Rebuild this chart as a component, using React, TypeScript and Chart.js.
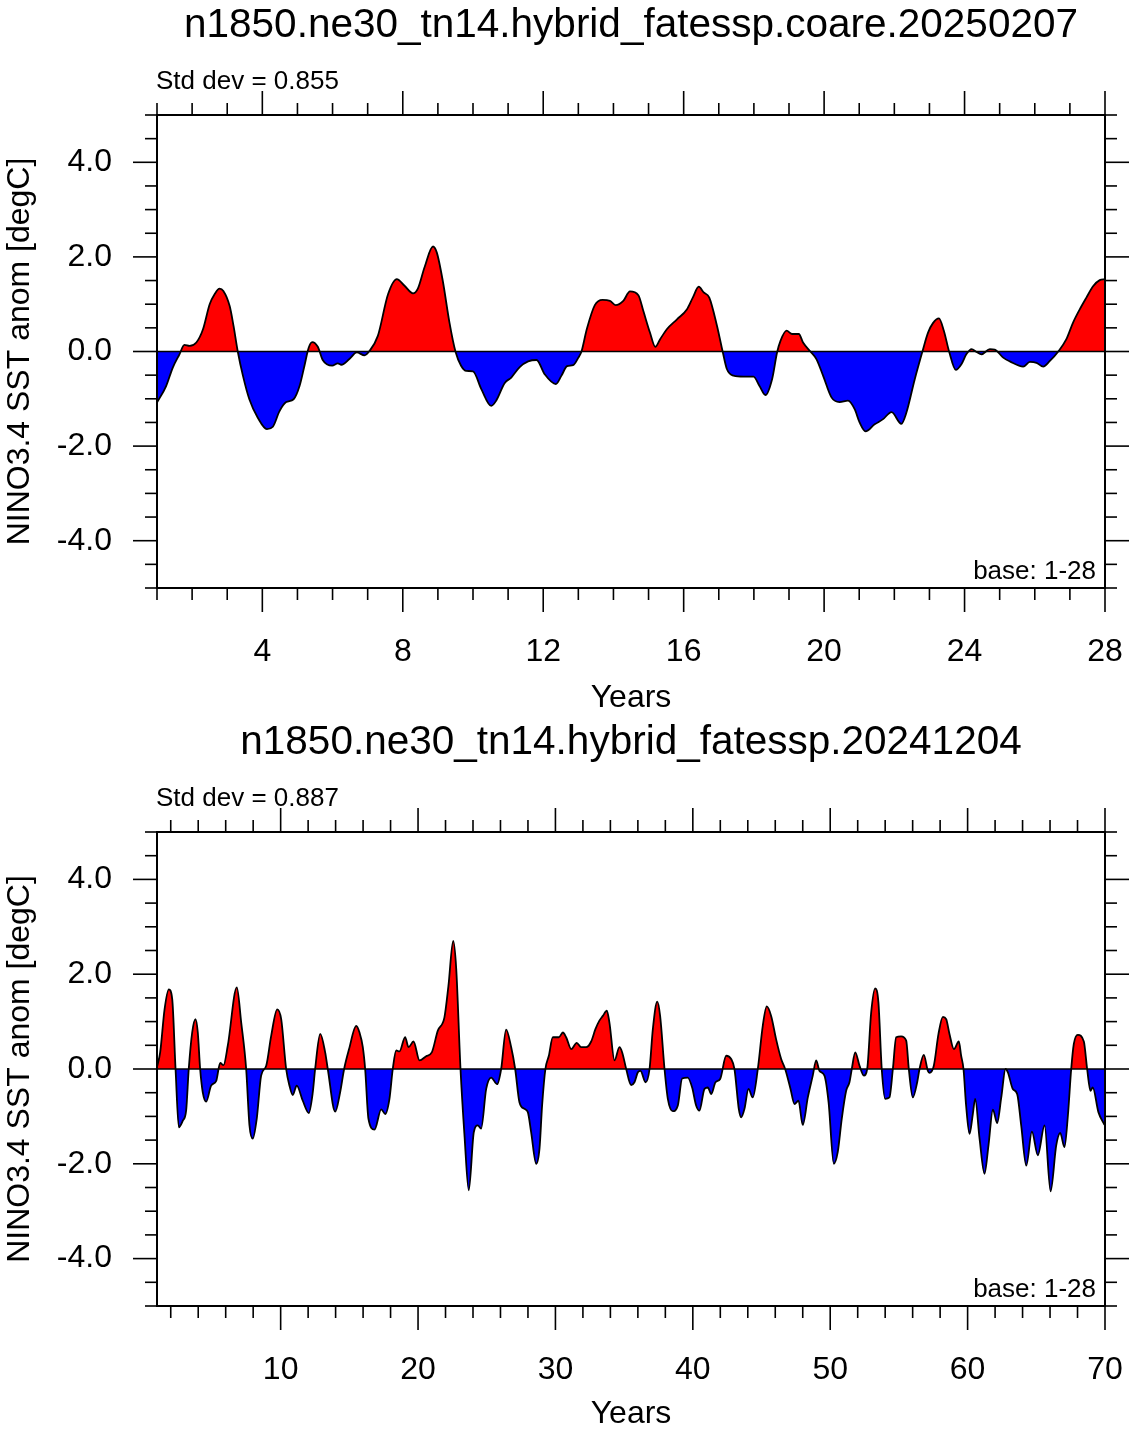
import React, { useEffect, useRef } from "react";
import { Chart, registerables } from "chart.js";

Chart.register(...registerables);

const FONT = '"Liberation Sans", Arial, Helvetica, sans-serif';

// Shared axis text
const X_TITLE = "Years";
const Y_TITLE = "NINO3.4 SST anom [degC]";
const BASE_LABEL = "base: 1-28";
const Y_MAJOR = [-4, -2, 0, 2, 4];
const Y_MINOR_STEP = 0.5;
const Y_MIN = -5;
const Y_MAX = 5;

// Run 1: coare, years 1-28
const TITLE_A = "n1850.ne30_tn14.hybrid_fatessp.coare.20250207";
const STDDEV_A = "Std dev = 0.855";
const X_MAJOR_A = [4, 8, 12, 16, 20, 24, 28];
const X_MINOR_STEP_A = 1;
const X_MIN_A = 1;
const X_MAX_A = 28;
const YEARS_A = [
  1.0, 1.26, 1.45, 1.64, 1.78, 1.93, 2.12, 2.31, 2.5, 2.64, 2.78, 2.89, 3.07, 3.18, 3.3, 3.45, 3.63, 3.87,
  4.13, 4.3, 4.49, 4.68, 4.89, 5.06, 5.2, 5.32, 5.42, 5.58, 5.72, 5.99, 6.15, 6.25, 6.48, 6.69, 6.91, 7.05,
  7.29, 7.58, 7.83, 8.05, 8.29, 8.43, 8.62, 8.86, 8.97, 9.14, 9.33, 9.5, 9.66, 9.81, 10.0, 10.24, 10.52,
  10.66, 10.9, 11.09, 11.33, 11.57, 11.81, 12.04, 12.36, 12.52, 12.68, 12.85, 13.0, 13.09, 13.24, 13.47,
  13.69, 13.9, 14.06, 14.28, 14.47, 14.71, 14.85, 15.04, 15.19, 15.33, 15.52, 15.81, 16.09, 16.26, 16.43,
  16.57, 16.73, 16.95, 17.11, 17.23, 17.42, 17.71, 17.99, 18.16, 18.33, 18.52, 18.66, 18.76, 18.93, 19.09,
  19.28, 19.4, 19.61, 19.78, 19.97, 20.21, 20.44, 20.68, 20.87, 21.01, 21.18, 21.44, 21.68, 21.92, 22.2,
  22.34, 22.58, 22.8, 22.96, 23.1, 23.27, 23.41, 23.56, 23.75, 23.91, 24.05, 24.2, 24.34, 24.48, 24.72,
  24.86, 25.1, 25.29, 25.67, 25.86, 26.05, 26.24, 26.43, 26.67, 26.9, 27.09, 27.28, 27.47, 27.66, 27.85, 28.0,
];
const ANOM_A = [
  -1.08, -0.73, -0.34, -0.06, 0.14, 0.12, 0.19, 0.47, 1.0, 1.21, 1.33, 1.28, 0.96, 0.54, 0.0, -0.52, -1.01, -1.4,
  -1.64, -1.59, -1.26, -1.07, -1.01, -0.73, -0.3, 0.08, 0.2, 0.1, -0.18, -0.3, -0.25, -0.28, -0.16, -0.02, -0.08, 0.01,
  0.33, 1.21, 1.53, 1.39, 1.23, 1.33, 1.78, 2.22, 2.09, 1.49, 0.61, 0.0, -0.3, -0.41, -0.42, -0.8, -1.15,
  -1.04, -0.67, -0.55, -0.33, -0.21, -0.18, -0.48, -0.69, -0.51, -0.31, -0.29, -0.13, 0.0, 0.47, 0.98,
  1.09, 1.07, 0.98, 1.07, 1.27, 1.19, 0.86, 0.4, 0.1, 0.26, 0.47, 0.68, 0.89, 1.14, 1.37,
  1.25, 1.14, 0.54, 0.0, -0.37, -0.51, -0.53, -0.53, -0.73, -0.92, -0.58, -0.02, 0.23, 0.44, 0.37,
  0.37, 0.19, 0.0, -0.16, -0.51, -0.97, -1.07, -1.04, -1.22, -1.5, -1.69, -1.54, -1.43, -1.28, -1.53,
  -1.3, -0.59, 0.0, 0.4, 0.6, 0.7, 0.44, 0.0, -0.39, -0.27, -0.06, 0.05, -0.01, -0.06, 0.05,
  0.04, -0.13, -0.21, -0.32, -0.22, -0.24, -0.32, -0.2, 0.0, 0.26, 0.61, 0.89, 1.14, 1.38, 1.51, 1.53,
];

// Run 2: years 1-70
const TITLE_B = "n1850.ne30_tn14.hybrid_fatessp.20241204";
const STDDEV_B = "Std dev = 0.887";
const X_MAJOR_B = [10, 20, 30, 40, 50, 60, 70];
const X_MINOR_STEP_B = 2;
const X_MIN_B = 1;
const X_MAX_B = 70;
const YEARS_B = [
  1.0, 1.23, 1.55, 1.86, 2.11, 2.35, 2.59, 2.88, 3.12, 3.31, 3.56, 3.8, 3.97, 4.14, 4.33, 4.58, 4.94, 5.31,
  5.6, 5.84, 6.15, 6.81, 7.13, 7.49, 7.73, 7.97, 8.26, 8.58, 8.95, 9.31, 9.75, 10.04, 10.4, 10.64, 10.88,
  11.17, 11.61, 12.05, 12.34, 12.51, 12.88, 13.24, 13.43, 13.97, 14.33, 14.62, 14.98, 15.5, 15.74, 15.98,
  16.15, 16.39, 16.83, 17.32, 17.61, 17.92, 18.16, 18.41, 18.65, 19.06, 19.31, 19.67, 20.11, 20.59, 21.0,
  21.44, 21.92, 22.21, 22.56, 22.78, 23.09, 23.38, 23.69, 24.06, 24.35, 24.59, 24.96, 25.32, 25.76, 26.05,
  26.41, 26.78, 27.07, 27.38, 27.74, 27.99, 28.23, 28.6, 28.84, 29.03, 29.27, 29.52, 29.81, 30.25, 30.54,
  30.78, 31.15, 31.55, 31.87, 32.24, 32.6, 32.91, 33.2, 33.45, 33.74, 33.93, 34.3, 34.66, 34.86, 35.15,
  35.51, 35.75, 36.0, 36.19, 36.56, 36.85, 37.09, 37.41, 37.62, 37.94, 38.18, 38.54, 38.91, 39.22, 39.63,
  39.95, 40.24, 40.48, 40.85, 41.09, 41.34, 41.65, 41.99, 42.43, 42.79, 43.03, 43.35, 43.52, 43.76, 44.05,
  44.36, 44.73, 45.09, 45.38, 45.7, 46.06, 46.43, 46.72, 47.11, 47.4, 47.69, 48.0, 48.37, 48.73, 48.98,
  49.22, 49.58, 49.88, 50.26, 50.55, 50.84, 51.16, 51.4, 51.57, 51.82, 52.13, 52.45, 52.69, 52.98, 53.27,
  53.51, 53.75, 54.0, 54.31, 54.56, 54.8, 55.16, 55.53, 55.72, 56.01, 56.33, 56.5, 56.81, 57.11, 57.22,
  57.54, 57.88, 58.2, 58.44, 58.68, 59.0, 59.36, 59.53, 59.7, 59.89, 60.14, 60.38, 60.55, 60.87, 61.23,
  61.52, 61.84, 62.15, 62.45, 62.76, 62.93, 63.29, 63.61, 63.9, 64.27, 64.68, 65.11, 65.6, 66.04, 66.45,
  66.74, 67.05, 67.3, 67.54, 67.73, 68.02, 68.46, 68.7, 68.94, 69.11, 69.52, 69.96,
];
const ANOM_B = [
  0.04, 0.35, 1.26, 1.68, 1.47, 0.0, -1.23, -1.09, -0.88, 0.0, 0.77, 1.05, 0.77, 0.0, -0.49, -0.69, -0.35, -0.25,
  0.13, 0.08, 0.49, 1.72, 0.98, 0.0, -1.19, -1.47, -1.05, -0.14, 0.07, 0.7, 1.26, 1.05, 0.0, -0.35, -0.55,
  -0.35, -0.67, -0.93, -0.49, 0.0, 0.74, 0.35, 0.0, -0.9, -0.49, 0.0, 0.42, 0.91, 0.77, 0.46,
  0.0, -1.05, -1.28, -0.85, -0.95, -0.63, 0.0, 0.39, 0.37, 0.67, 0.46, 0.58, 0.18, 0.27, 0.35,
  0.81, 1.09, 1.75, 2.7, 2.11, 0.0, -1.4, -2.56, -1.33, -1.19, -1.26, -0.42, -0.18, -0.32, 0.0,
  0.83, 0.46, 0.0, -0.7, -0.84, -0.91, -1.33, -2.0, -1.68, -0.77, 0.0, 0.28, 0.67, 0.67, 0.77,
  0.67, 0.42, 0.55, 0.46, 0.46, 0.58, 0.84, 1.02, 1.12, 1.23, 0.98, 0.18, 0.46, 0.35, 0.0,
  -0.34, -0.28, -0.07, -0.04, -0.28, 0.0, 0.84, 1.42, 1.12, 0.0, -0.63, -0.89, -0.77, -0.2, -0.18,
  -0.39, -0.77, -0.88, -0.42, -0.39, -0.53, -0.28, -0.21, 0.28, 0.21, 0.0, -0.85, -1.02, -0.84, -0.42,
  -0.6, 0.0, 0.91, 1.32, 1.12, 0.63, 0.21, 0.0, -0.42, -0.74, -0.67, -1.18, -0.6, -0.14, 0.18,
  -0.04, -0.14, -0.7, -2.0, -1.75, -1.05, -0.46, -0.28, 0.0, 0.35, 0.07, -0.14, 0.0, 1.19, 1.7,
  1.4, 0.0, -0.63, -0.6, 0.0, 0.67, 0.69, 0.6, 0.0, -0.6, -0.28, 0.0, 0.3, -0.04, -0.08,
  0.07, 0.74, 1.1, 1.05, 0.74, 0.42, 0.58, 0.28, 0.0, -0.77, -1.37, -0.95, -0.63, -1.47, -2.21,
  -1.61, -0.86, -1.14, -0.6, 0.0, -0.07, -0.42, -0.53, -1.19, -2.04, -1.32, -1.82, -1.19, -2.58, -1.61,
  -1.35, -1.65, -0.98, 0.0, 0.53, 0.72, 0.58, 0.0, -0.46, -0.39, -0.91, -1.18,
];

// Page geometry
const PAGE_W = 1136;
const PANEL_H = 716;
const PLOT_RIGHT_PAD = 31;
const Y_AXIS_W = 157;
const MAJOR_LEN = 24;
const MINOR_LEN = 12;

type PanelSpec = {
  title: string;
  stddev: string;
  years: number[];
  anom: number[];
  xMin: number;
  xMax: number;
  xMajor: number[];
  xMinorStep: number;
  plotTop: number;
  plotBottom: number;
};

function range(from: number, to: number, step: number): number[] {
  const out: number[] = [];
  const n = Math.round((to - from) / step);
  for (let i = 0; i <= n; i++) out.push(+(from + i * step).toFixed(6));
  return out;
}

// Outward tick marks on all four sides, closed frame and zero reference line
const frameTicks = {
  id: "frameTicks",
  afterDatasetsDraw(chart: any, _args: any, opts: any) {
    const { ctx, chartArea: a, scales } = chart;
    const x = scales.x;
    const y = scales.y;
    ctx.save();
    ctx.strokeStyle = "#000";
    ctx.lineCap = "butt";

    // zero line
    ctx.lineWidth = 1.6;
    const y0 = y.getPixelForValue(0);
    ctx.beginPath();
    ctx.moveTo(a.left, y0);
    ctx.lineTo(a.right, y0);
    ctx.stroke();

    const seg = (x1: number, y1: number, x2: number, y2: number) => {
      ctx.beginPath();
      ctx.moveTo(x1, y1);
      ctx.lineTo(x2, y2);
      ctx.stroke();
    };

    ctx.lineWidth = 1.6;
    const firstMinor = Math.ceil(opts.xMin / opts.xMinorStep) * opts.xMinorStep;
    for (const v of range(firstMinor, opts.xMax, opts.xMinorStep)) {
      const px = x.getPixelForValue(v);
      const len = opts.xMajor.includes(v) ? MAJOR_LEN : MINOR_LEN;
      seg(px, a.bottom, px, a.bottom + len);
      seg(px, a.top, px, a.top - len);
    }
    for (const v of range(Y_MIN, Y_MAX, Y_MINOR_STEP)) {
      const py = y.getPixelForValue(v);
      const len = Y_MAJOR.includes(v) ? MAJOR_LEN : MINOR_LEN;
      seg(a.left, py, a.left - len, py);
      seg(a.right, py, a.right + len, py);
    }

    ctx.lineWidth = 2;
    ctx.strokeRect(a.left, a.top, a.right - a.left, a.bottom - a.top);
    ctx.restore();
  },
};

// Run title, standard deviation and base-period notes
const panelText = {
  id: "panelText",
  afterDraw(chart: any, _args: any, opts: any) {
    const { ctx, chartArea: a } = chart;
    ctx.save();
    ctx.fillStyle = "#000";
    ctx.textBaseline = "alphabetic";

    ctx.font = `40.5px ${FONT}`;
    ctx.textAlign = "center";
    ctx.fillText(opts.title, (a.left + a.right) / 2, a.top - 78);

    ctx.font = `26px ${FONT}`;
    ctx.textAlign = "left";
    ctx.fillText(opts.stddev, a.left - 1, a.top - 26);

    ctx.textAlign = "right";
    ctx.fillText(BASE_LABEL, a.right - 9, a.bottom - 9);
    ctx.restore();
  },
};

function Panel({ spec, top }: { spec: PanelSpec; top: number }) {
  const ref = useRef<HTMLCanvasElement | null>(null);

  useEffect(() => {
    const canvas = ref.current;
    if (!canvas) return;
    const axisFont = { family: FONT, size: 32 };
    const chart = new Chart(canvas, {
      type: "line",
      data: {
        datasets: [
          {
            data: spec.years.map((yr, i) => ({ x: yr, y: spec.anom[i] })),
            borderColor: "#000",
            borderWidth: 1.8,
            pointRadius: 0,
            cubicInterpolationMode: "monotone",
            fill: { target: "origin", above: "#ff0000", below: "#0000ff" },
          },
        ],
      },
      options: {
        responsive: false,
        animation: false,
        devicePixelRatio: 1,
        layout: { padding: { left: 0, right: PLOT_RIGHT_PAD, top: spec.plotTop, bottom: 0 } },
        plugins: {
          legend: { display: false },
          tooltip: { enabled: false },
          title: { display: false },
          frameTicks: { xMin: spec.xMin, xMax: spec.xMax, xMajor: spec.xMajor, xMinorStep: spec.xMinorStep },
          panelText: { title: spec.title, stddev: spec.stddev },
        } as any,
        scales: {
          x: {
            type: "linear",
            position: "bottom",
            min: spec.xMin,
            max: spec.xMax,
            afterBuildTicks: (s: any) => {
              s.ticks = spec.xMajor.map((v) => ({ value: v }));
            },
            afterFit: (s: any) => {
              s.height = PANEL_H - spec.plotBottom;
              s.paddingLeft = 0;
              s.paddingRight = 0;
            },
            grid: { display: false, drawTicks: false },
            border: { display: false },
            ticks: {
              color: "#000",
              font: axisFont,
              padding: 45,
              autoSkip: false,
              maxRotation: 0,
              callback: (v: any) => String(v),
            },
            title: {
              display: true,
              text: X_TITLE,
              color: "#000",
              font: { family: FONT, size: 32, lineHeight: 1.1 },
              padding: 0,
            },
          },
          y: {
            type: "linear",
            min: Y_MIN,
            max: Y_MAX,
            afterBuildTicks: (s: any) => {
              s.ticks = Y_MAJOR.map((v) => ({ value: v }));
            },
            afterFit: (s: any) => {
              s.width = Y_AXIS_W;
              s.paddingTop = 0;
              s.paddingBottom = 0;
            },
            grid: { display: false, drawTicks: false },
            border: { display: false },
            ticks: {
              color: "#000",
              font: axisFont,
              padding: 45,
              autoSkip: false,
              callback: (v: any) => Number(v).toFixed(1),
            },
            title: { display: true, text: Y_TITLE, color: "#000", font: axisFont, padding: 1 },
          },
        },
      },
      plugins: [frameTicks, panelText],
    } as any);
    return () => chart.destroy();
  }, [spec]);

  return (
    <canvas
      ref={ref}
      width={PAGE_W}
      height={PANEL_H}
      style={{ position: "absolute", left: 0, top, width: PAGE_W, height: PANEL_H, display: "block" }}
    />
  );
}

const PANEL_A: PanelSpec = {
  title: TITLE_A,
  stddev: STDDEV_A,
  years: YEARS_A,
  anom: ANOM_A,
  xMin: X_MIN_A,
  xMax: X_MAX_A,
  xMajor: X_MAJOR_A,
  xMinorStep: X_MINOR_STEP_A,
  plotTop: 115,
  plotBottom: 588,
};

const PANEL_B: PanelSpec = {
  title: TITLE_B,
  stddev: STDDEV_B,
  years: YEARS_B,
  anom: ANOM_B,
  xMin: X_MIN_B,
  xMax: X_MAX_B,
  xMajor: X_MAJOR_B,
  xMinorStep: X_MINOR_STEP_B,
  plotTop: 116,
  plotBottom: 590,
};

export default function App() {
  return (
    <div
      style={{
        position: "absolute",
        left: 0,
        top: 0,
        width: PAGE_W,
        height: PANEL_H * 2,
        background: "#fff",
        overflow: "hidden",
      }}
    >
      <Panel spec={PANEL_A} top={0} />
      <Panel spec={PANEL_B} top={PANEL_H} />
    </div>
  );
}
